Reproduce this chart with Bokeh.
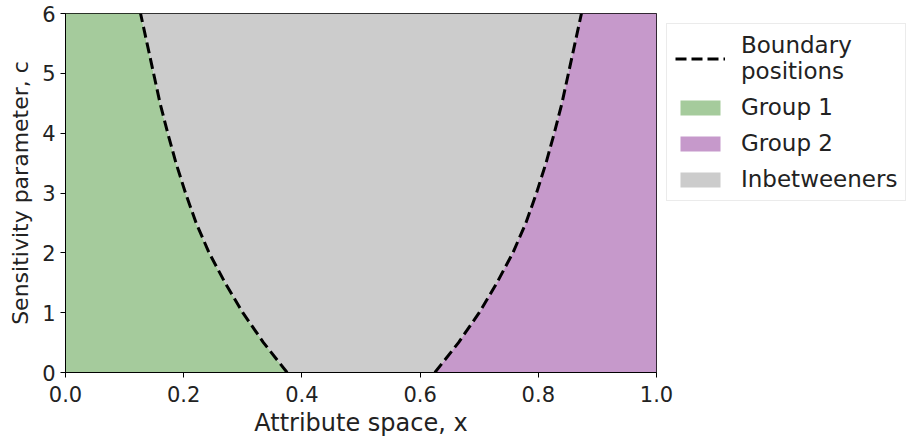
from bokeh.plotting import figure
from bokeh.models import Range1d, Legend, LegendItem, ColumnDataSource
from bokeh.embed import file_html
from bokeh.resources import INLINE

# Sensitivity parameter values and boundary positions
c_vals = [0.0, 0.5, 1.0, 1.5, 2.0, 2.5, 3.0, 3.5, 4.0, 4.5, 5.0, 5.5, 6.0]
left_boundary = [0.375, 0.335, 0.300, 0.270, 0.243, 0.221, 0.203, 0.187, 0.173, 0.160, 0.149, 0.138, 0.127]
right_boundary = [0.625, 0.665, 0.700, 0.730, 0.757, 0.779, 0.797, 0.813, 0.827, 0.840, 0.851, 0.862, 0.873]
x_ticks = [0.0, 0.2, 0.4, 0.6, 0.8, 1.0]
y_ticks = [0, 1, 2, 3, 4, 5, 6]

zeros = [0.0] * len(c_vals)
ones = [1.0] * len(c_vals)
src = ColumnDataSource(dict(c=c_vals, left=left_boundary, right=right_boundary, zero=zeros, one=ones))

FONT = "DejaVu Sans"
GREEN = "#a5cb9c"
PURPLE = "#c699cb"
GREY = "#cccccc"
TEXT = "#222222"

p = figure(width=905, height=438, output_backend="svg", toolbar_location=None,
           x_range=Range1d(0, 1), y_range=Range1d(0, 6),
           frame_width=591, frame_height=359,
           min_border_left=65, min_border_top=13, min_border_bottom=10, min_border_right=0)

g1 = p.harea(y="c", x1="zero", x2="left", source=src, fill_color=GREEN)
mid = p.harea(y="c", x1="left", x2="right", source=src, fill_color=GREY)
g2 = p.harea(y="c", x1="right", x2="one", source=src, fill_color=PURPLE)
l1 = p.line(x="left", y="c", source=src, line_color="black", line_width=3, line_dash="11 5")
l2 = p.line(x="right", y="c", source=src, line_color="black", line_width=3, line_dash="11 5")

p.grid.visible = False
p.outline_line_color = "black"
p.outline_line_width = 1
p.background_fill_color = "white"
p.border_fill_color = "white"

for ax in (p.xaxis[0], p.yaxis[0]):
    ax.major_label_text_font = FONT
    ax.major_label_text_font_size = "21px"
    ax.major_label_text_color = TEXT
    ax.axis_label_text_font = FONT
    ax.axis_label_text_font_style = "normal"
    ax.axis_label_text_color = TEXT
    ax.minor_tick_line_color = None
    ax.major_tick_out = 5
    ax.major_tick_in = 0
    ax.axis_line_color = "black"
    ax.major_tick_line_color = "black"

p.xaxis.axis_label_text_font_size = "24px"
p.yaxis.axis_label_text_font_size = "22px"
p.xaxis.ticker = x_ticks
p.xaxis.major_label_overrides = {0: "0.0", 1: "1.0"}
p.yaxis.ticker = y_ticks
p.xaxis.axis_label = "Attribute space, x"
p.yaxis.axis_label = "Sensitivity parameter, c"
p.xaxis.major_label_standoff = 8
p.yaxis.major_label_standoff = 5
p.xaxis.axis_label_standoff = 4
p.yaxis.axis_label_standoff = 6

legend = Legend(items=[
    LegendItem(label="Boundary\npositions", renderers=[l1]),
    LegendItem(label="Group 1", renderers=[g1]),
    LegendItem(label="Group 2", renderers=[g2]),
    LegendItem(label="Inbetweeners", renderers=[mid]),
], location="top_left")
legend.label_text_font = FONT
legend.label_text_font_size = "23px"
legend.label_text_color = TEXT
legend.glyph_width = 50
legend.glyph_height = 19
legend.label_height = 23
legend.label_standoff = 16
legend.spacing = 10
legend.padding = 8
legend.margin = 10
legend.border_line_color = "#d8d8d8"
legend.border_line_width = 1
p.add_layout(legend, "right")

open("out.html", "w").write(file_html(p, INLINE))
